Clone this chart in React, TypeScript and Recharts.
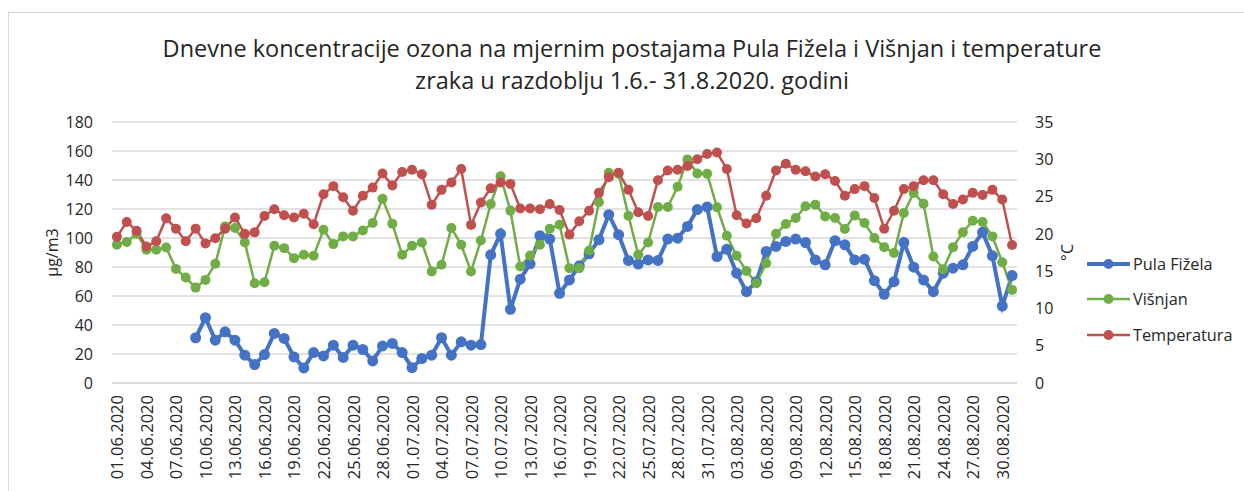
import React from "react";
import { CartesianGrid, ComposedChart, Line, XAxis, YAxis } from "recharts";

// Daily values 01.06.–31.08.2020
const pulaFizela: (number | null)[] = [
  null, null, null, null, null, null, null, null, 31.2, 45,
  29.5, 35.3, 29.5, 19.2, 12.7, 19.6, 34.2, 30.7, 18, 10.4,
  21, 18.7, 26.1, 17.6, 26.1, 23.1, 15.2, 25.6, 27.3, 21,
  10.6, 16.9, 19.2, 31.2, 19.2, 28.4, 26.1, 26.5, 88.4, 102.9,
  50.8, 71.6, 82.2, 101.6, 99.3, 61.9, 71.1, 80.8, 89.1, 98.8,
  116.1, 102.3, 84.5, 82, 84.9, 84.5, 99.3, 99.9, 108, 119.6,
  121.4, 87.2, 92.3, 75.7, 63, 69.9, 90.7, 94.2, 97.6, 99.3,
  96.9, 84.9, 81.5, 98.1, 95.3, 84.9, 85.3, 70.6, 61.2, 69.9,
  96.9, 79.9, 71.1, 63, 75.7, 79.2, 81.5, 94.2, 103.9, 87.7,
  53.1, 74.1,
];

const visnjan: number[] = [
  95.3, 97.2, 103, 91.9, 91.9, 93.5, 78.7, 72.7, 65.8, 71.1,
  82.2, 108, 106.9, 97, 68.8, 69.5, 94.7, 93, 86.1, 88.4,
  87.7, 105.7, 95.8, 101.1, 101.1, 105.2, 110.3, 127, 109.9, 88.4,
  94.6, 96.9, 76.9, 81.5, 106.9, 95.3, 76.9, 98.3, 123.5, 142.6,
  118.9, 80.3, 87.9, 95.3, 106.4, 109.2, 79.2, 79.2, 91.4, 124.6,
  145, 144.3, 115.4, 88.4, 96.9, 121.4, 121.4, 135.3, 154.2, 144.5,
  144.3, 121.2, 101.6, 87.7, 77.3, 68.8, 82.6, 102.9, 109.6, 113.8,
  121.9, 123, 114.9, 113.8, 106.2, 115.6, 110.3, 100, 93.7, 89.6,
  117.3, 131.1, 123.7, 87.2, 78.5, 93.7, 103.9, 111.9, 111, 101.1,
  83.3, 64.2,
];

const temperatura: number[] = [
  19.6, 21.6, 20.4, 18.3, 19.0, 22.1, 20.7, 19.0, 20.7, 18.7,
  19.4, 20.7, 22.2, 20.0, 20.2, 22.4, 23.3, 22.5, 22.2, 22.7,
  21.3, 25.3, 26.4, 24.9, 23.1, 25.1, 26.2, 28.1, 26.5, 28.3,
  28.6, 28.0, 23.9, 25.9, 26.9, 28.7, 21.2, 24.2, 26.1, 26.9,
  26.7, 23.4, 23.4, 23.3, 24.0, 23.2, 19.9, 21.7, 23.1, 25.5,
  27.6, 28.2, 25.9, 22.9, 22.4, 27.2, 28.5, 28.6, 29.1, 30.0,
  30.7, 30.9, 28.7, 22.5, 21.4, 22.1, 25.1, 28.5, 29.4, 28.6,
  28.4, 27.7, 28.0, 27.1, 25.1, 26.0, 26.4, 24.8, 20.7, 23.1,
  26.0, 26.4, 27.2, 27.2, 25.3, 24.0, 24.6, 25.5, 25.2, 25.9,
  24.6, 18.5,
];

const ozoneTicks = [0, 20, 40, 60, 80, 100, 120, 140, 160, 180];
const tempTicks = [0, 5, 10, 15, 20, 25, 30, 35];

const monthDays: [string, number][] = [["06", 30], ["07", 31], ["08", 31]];
const dates: string[] = monthDays.flatMap(([m, n]) =>
  Array.from({ length: n }, (_, i) => `${String(i + 1).padStart(2, "0")}.${m}.2020`)
);

const data = dates.map((date, i) => ({
  date,
  pula: pulaFizela[i],
  visnjan: visnjan[i],
  temp: temperatura[i],
}));

const BLUE = "#4472C4";
const GREEN = "#70AD47";
const RED = "#C0504D";
const FONT = "'Open Sans', sans-serif";
const INK = "#262626";

const legendItems = [
  { name: "Pula Fižela", color: BLUE, width: 4 },
  { name: "Višnjan", color: GREEN, width: 2.5 },
  { name: "Temperatura", color: RED, width: 2.5 },
];

function DateTick({ x, y, payload }: any) {
  return (
    <g transform={`translate(${x},${y})`}>
      <text
        transform="rotate(-90)"
        x={-4}
        y={0}
        textAnchor="end"
        dominantBaseline="central"
        fontSize={16.5}
        fontFamily={FONT}
        fill={INK}
      >
        {payload.value}
      </text>
    </g>
  );
}

export default function App() {
  return (
    <div style={{ position: "absolute", left: 0, top: 0, width: 1244, height: 491, background: "#fff", overflow: "hidden" }}>
      <div
        style={{
          position: "absolute",
          left: 8,
          top: 12,
          width: 1300,
          height: 600,
          border: "1px solid #d9d9d9",
        }}
      />
      <div
        style={{
          position: "absolute",
          left: 0,
          top: 31.5,
          width: 1264,
          textAlign: "center",
          fontFamily: FONT,
          fontSize: 23.5,
          lineHeight: "32px",
          color: INK,
        }}
      >
        Dnevne koncentracije ozona na mjernim postajama Pula Fižela i Višnjan i temperature
        <br />
        zraka u razdoblju 1.6.- 31.8.2020. godini
      </div>

      <ComposedChart
        width={1244}
        height={491}
        data={data}
        margin={{ top: 122, right: 127, bottom: 8, left: 0 }}
        style={{ position: "absolute", left: 0, top: 0 }}
      >
        <CartesianGrid yAxisId="left" vertical={false} stroke="#d9d9d9" strokeWidth={1.3} />
        <XAxis
          dataKey="date"
          scale="band"
          interval={2}
          height={100}
          tick={<DateTick />}
          tickLine={false}
          axisLine={{ stroke: "#d9d9d9", strokeWidth: 1.3 }}
          tickSize={6}
          tickMargin={2}
        />
        <YAxis
          yAxisId="left"
          width={112}
          domain={[0, 180]}
          ticks={ozoneTicks}
          axisLine={false}
          tickLine={false}
          tickSize={6}
          tickMargin={13}
          tick={{ fontSize: 16, fontFamily: FONT, fill: INK }}
          label={{
            value: "µg/m3",
            angle: -90,
            position: "center",
            dx: -4,
            style: { fontSize: 16, fontFamily: FONT, fill: INK },
          }}
        />
        <YAxis
          yAxisId="right"
          orientation="right"
          width={100}
          domain={[0, 35]}
          ticks={tempTicks}
          axisLine={false}
          tickLine={false}
          tickSize={6}
          tickMargin={12}
          tick={{ fontSize: 16, fontFamily: FONT, fill: INK, textAnchor: "start" }}
          label={{
            value: "°C",
            angle: -90,
            position: "center",
            dx: 0,
            style: { fontSize: 16, fontFamily: FONT, fill: INK },
          }}
        />
        <Line
          yAxisId="left"
          dataKey="pula"
          name="Pula Fižela"
          stroke={BLUE}
          strokeWidth={4}
          dot={{ r: 5.5, fill: BLUE, stroke: BLUE, strokeWidth: 0 }}
          isAnimationActive={false}
        />
        <Line
          yAxisId="left"
          dataKey="visnjan"
          name="Višnjan"
          stroke={GREEN}
          strokeWidth={2.5}
          dot={{ r: 5, fill: GREEN, stroke: GREEN, strokeWidth: 0 }}
          isAnimationActive={false}
        />
        <Line
          yAxisId="right"
          dataKey="temp"
          name="Temperatura"
          stroke={RED}
          strokeWidth={2.5}
          dot={{ r: 5, fill: RED, stroke: RED, strokeWidth: 0 }}
          isAnimationActive={false}
        />
      </ComposedChart>

      <div style={{ position: "absolute", left: 1086, top: 246 }}>
        {legendItems.map((item) => (
          <div key={item.name} style={{ display: "flex", alignItems: "center", height: 35.5 }}>
            <svg width={46} height={14}>
              <line x1={1} y1={7} x2={44} y2={7} stroke={item.color} strokeWidth={item.width} />
              <circle cx={22.5} cy={7} r={5} fill={item.color} />
            </svg>
            <span style={{ fontFamily: FONT, fontSize: 16.3, color: INK, marginLeft: 1 }}>{item.name}</span>
          </div>
        ))}
      </div>
    </div>
  );
}
